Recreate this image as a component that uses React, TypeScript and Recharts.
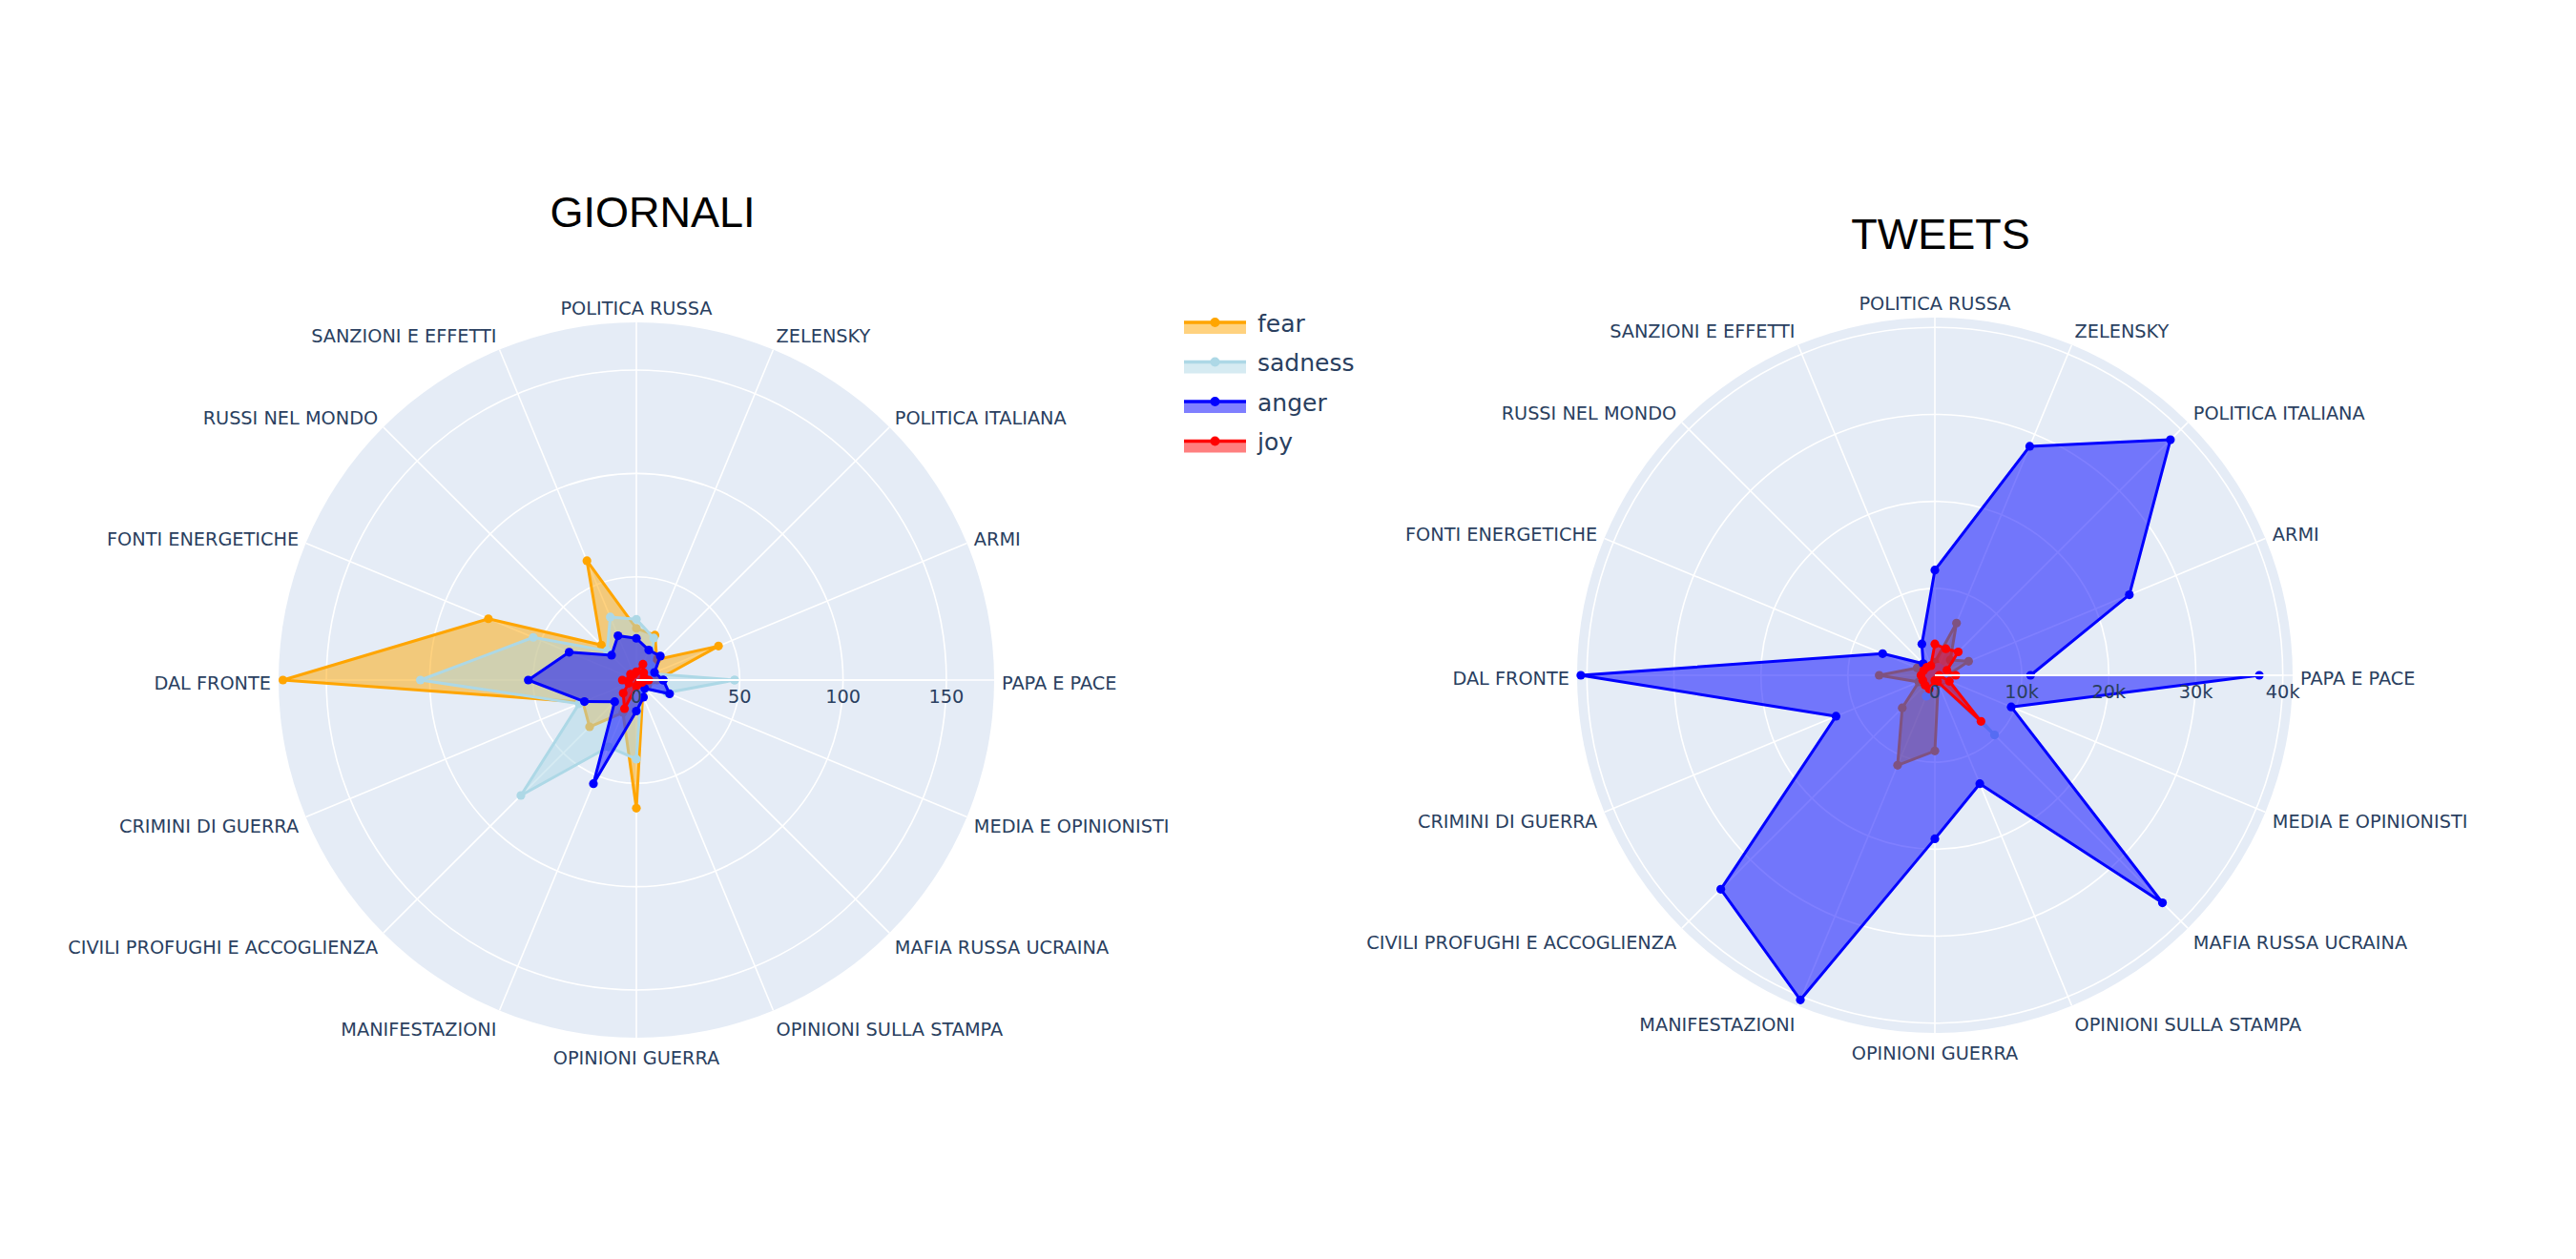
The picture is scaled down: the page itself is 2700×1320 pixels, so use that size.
import React from 'react';
import { RadarChart, Radar, PolarGrid, PolarAngleAxis, PolarRadiusAxis } from 'recharts';

// Angular categories (counter-clockwise from east)
const CATEGORIES = [
  'PAPA E PACE',
  'ARMI',
  'POLITICA ITALIANA',
  'ZELENSKY',
  'POLITICA RUSSA',
  'SANZIONI E EFFETTI',
  'RUSSI NEL MONDO',
  'FONTI ENERGETICHE',
  'DAL FRONTE',
  'CRIMINI DI GUERRA',
  'CIVILI PROFUGHI E ACCOGLIENZA',
  'MANIFESTAZIONI',
  'OPINIONI GUERRA',
  'OPINIONI SULLA STAMPA',
  'MAFIA RUSSA UCRAINA',
  'MEDIA E OPINIONISTI',
];
// theta of each trace point (the last one falls again on PAPA E PACE)
const POINT_CATEGORIES = [...CATEGORIES, 'PAPA E PACE'];

// GIORNALI (newspapers)
const GIORNALI_FEAR = [10, 43, 14, 23.5, 25, 62.5, 24, 77.5, 171, 28, 32, 17, 62, 8, 5, 6, 8];
const GIORNALI_SADNESS = [47.5, 8, 10, 22, 29.4, 33, 20, 54, 104.5, 30, 79, 35, 38.3, 6, 6, 16, 47.5];
const GIORNALI_ANGER = [13, 9.5, 16.4, 15.7, 20.2, 23.2, 17, 35.2, 52.3, 27.2, 14.8, 54.3, 15, 9, 5.7, 17.4, 13];
const GIORNALI_JOY = [6, 4, 5, 8.3, 4, 3, 4, 3, 6.8, 4, 9, 15, 3, 2, 2, 3, 5];

// TWEETS
const TWEETS_FEAR = [1500, 4200, 2500, 6500, 1500, 1200, 1300, 2200, 6400, 2000, 5300, 11200, 8700, 1000, 1000, 1200, 1500];
const TWEETS_SADNESS = [1000, 800, 1000, 1000, 800, 500, 600, 700, 1200, 800, 1000, 2600, 1200, 800, 9700, 1000, 1000];
const TWEETS_ANGER = [11000, 24200, 38300, 28500, 12100, 3900, 1900, 6500, 40700, 12300, 34800, 40400, 18800, 13500, 37000, 9500, 37300];
const TWEETS_JOY = [2400, 1500, 3800, 3300, 3600, 1200, 1300, 1400, 1600, 1500, 1600, 1700, 600, 800, 7500, 1800, 500];

const SERIES_NAMES = ['fear', 'sadness', 'anger', 'joy'];
const SERIES_COLORS = ['#FFA500', '#ADD8E6', '#0000FF', '#FF0000'];

const GIORNALI_TICKS = [0, 50, 100, 150];
const GIORNALI_MAX = 173.1;
const TWEETS_TICKS = [0, 10000, 20000, 30000, 40000];
const TWEETS_MAX = 41130;

const TITLES = ['GIORNALI', 'TWEETS'];

const FONT = '"DejaVu Sans", Verdana, sans-serif';
const TEXT_COLOR = '#2a3f5f';
const BG = '#E5ECF6';
const R = 375;
const W = 1300;
const H = 1000;
const TICK_FONT = 19.3;

function buildRows(fear: number[], sadness: number[], anger: number[], joy: number[]) {
  return POINT_CATEGORIES.map((c, i) => ({
    pos: i,
    category: c,
    fear: fear[i],
    sadness: sadness[i],
    anger: anger[i],
    joy: joy[i],
  }));
}

const GIORNALI_ROWS = buildRows(GIORNALI_FEAR, GIORNALI_SADNESS, GIORNALI_ANGER, GIORNALI_JOY);
const TWEETS_ROWS = buildRows(TWEETS_FEAR, TWEETS_SADNESS, TWEETS_ANGER, TWEETS_JOY);

function makeShape(color: string) {
  return (props: any) => {
    const pts: any[] = props.points || [];
    const d = pts.map((p) => `${p.x},${p.y}`).join(' ');
    return (
      <g>
        <polygon points={d} fill={color} fillOpacity={0.5} stroke="none" />
        <polyline points={d} fill="none" stroke={color} strokeWidth={3} strokeLinejoin="round" />
        {pts.map((p, i) => (
          <circle key={i} cx={p.x} cy={p.y} r={4.6} fill={color} />
        ))}
      </g>
    );
  };
}

const AngleTick = (props: any) => {
  const { x, y, payload, textAnchor } = props;
  const ang = (payload.coordinate * Math.PI) / 180;
  return (
    <text
      x={x}
      y={y - Math.sin(ang) * 10 + 3}
      textAnchor={textAnchor}
      dominantBaseline="central"
      fontFamily={FONT}
      fontSize={TICK_FONT}
      fill={TEXT_COLOR}
    >
      {CATEGORIES[Math.round(payload.value)]}
    </text>
  );
};

const fmtRadius = (v: number) => (v >= 1000 ? `${v / 1000}k` : `${v}`);

const RadiusTick = (props: any) => {
  const { x, y, payload } = props;
  return (
    <text
      x={x}
      y={y + 17}
      textAnchor="middle"
      dominantBaseline="central"
      fontFamily={FONT}
      fontSize={TICK_FONT}
      fill={TEXT_COLOR}
    >
      {fmtRadius(payload.value)}
    </text>
  );
};

function Panel({ cx, cy, rows, ticks, max }: { cx: number; cy: number; rows: any[]; ticks: number[]; max: number }) {
  return (
    <div style={{ position: 'absolute', left: cx - W / 2, top: cy - H / 2, width: W, height: H }}>
      <div
        style={{
          position: 'absolute',
          left: W / 2 - R,
          top: H / 2 - R,
          width: 2 * R,
          height: 2 * R,
          borderRadius: '50%',
          background: BG,
        }}
      />
      <div style={{ position: 'absolute', left: 0, top: 0 }}>
        <RadarChart
          width={W}
          height={H}
          data={rows}
          cx={W / 2}
          cy={H / 2}
          outerRadius={R}
          innerRadius={0}
          startAngle={0}
          endAngle={360}
          margin={{ top: 0, right: 0, bottom: 0, left: 0 }}
        >
          <PolarGrid gridType="circle" stroke="#ffffff" strokeWidth={1.6} />
          <PolarAngleAxis
            dataKey="pos"
            type="number"
            domain={[0, CATEGORIES.length]}
            ticks={CATEGORIES.map((_, i) => i)}
            tick={AngleTick}
            tickLine={false}
            axisLine={false}
          />
          {SERIES_NAMES.map((name, i) => (
            <Radar
              key={name}
              name={name}
              dataKey={name}
              stroke={SERIES_COLORS[i]}
              fill={SERIES_COLORS[i]}
              isAnimationActive={false}
              shape={makeShape(SERIES_COLORS[i])}
              dot={false}
            />
          ))}
          <PolarRadiusAxis
            angle={0}
            type="number"
            domain={[0, max]}
            ticks={ticks}
            tick={RadiusTick}
            tickLine={false}
            axisLine={{ stroke: '#ffffff', strokeWidth: 2 }}
          />
        </RadarChart>
      </div>
    </div>
  );
}

function LegendAndTitles() {
  return (
    <svg
      width={2700}
      height={1320}
      style={{ position: 'absolute', left: 0, top: 0, pointerEvents: 'none', zIndex: 5 }}
    >
      <text x={684} y={238} textAnchor="middle" fontFamily='"Liberation Sans", Arial, sans-serif' fontSize={45} fill="#000">
        {TITLES[0]}
      </text>
      <text x={2034} y={261} textAnchor="middle" fontFamily='"Liberation Sans", Arial, sans-serif' fontSize={45} fill="#000">
        {TITLES[1]}
      </text>
      {SERIES_NAMES.map((name, i) => {
        const y = 338 + i * 41.5;
        const c = SERIES_COLORS[i];
        return (
          <g key={name}>
            <rect x={1241} y={y} width={65} height={12} fill={c} fillOpacity={0.5} />
            <line x1={1241} x2={1306} y1={y} y2={y} stroke={c} strokeWidth={3.5} />
            <circle cx={1273.5} cy={y} r={5} fill={c} />
            <text x={1318} y={y + 1} dominantBaseline="central" fontFamily={FONT} fontSize={25} fill={TEXT_COLOR}>
              {name}
            </text>
          </g>
        );
      })}
    </svg>
  );
}

export default function App() {
  return (
    <div
      style={{
        position: 'absolute',
        left: 0,
        top: 0,
        width: 2700,
        height: 1320,
        background: '#ffffff',
        overflow: 'hidden',
      }}
    >
      <Panel cx={667} cy={713} rows={GIORNALI_ROWS} ticks={GIORNALI_TICKS} max={GIORNALI_MAX} />
      <Panel cx={2028} cy={708} rows={TWEETS_ROWS} ticks={TWEETS_TICKS} max={TWEETS_MAX} />
      <LegendAndTitles />
    </div>
  );
}
